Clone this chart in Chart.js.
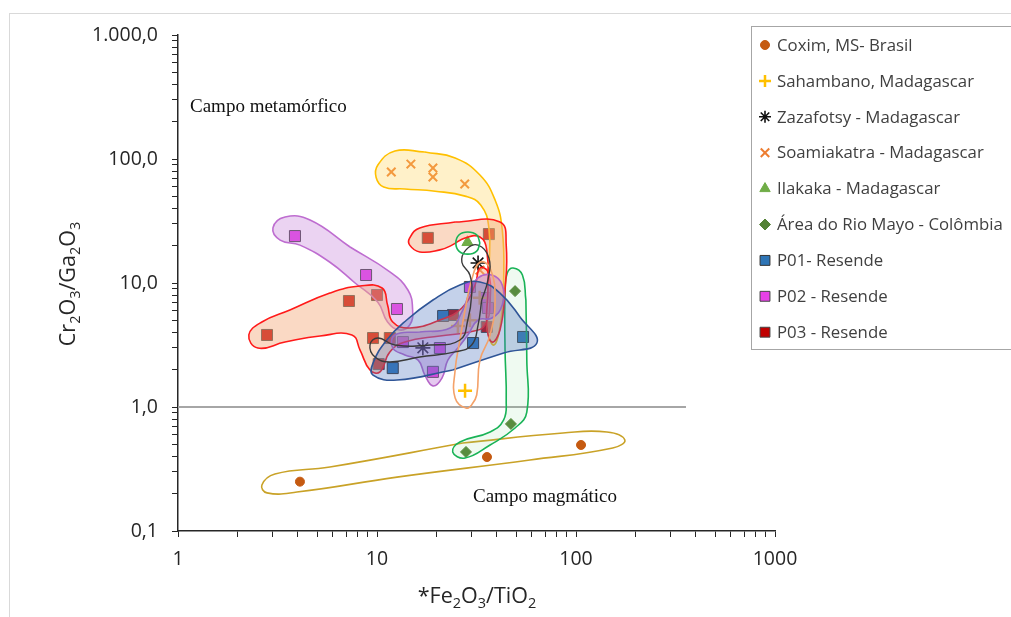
<!DOCTYPE html>
<html>
<head>
<meta charset="utf-8">
<script src="https://cdn.jsdelivr.net/npm/chart.js@4.4.1/dist/chart.umd.min.js"></script>
<style>
  html, body { margin: 0; padding: 0; background: #fff; overflow: hidden; }
  #wrap { position: relative; width: 1011px; height: 617px; }
  #frame { position: absolute; left: 9px; top: 13px; width: 1100px; height: 700px; border: 1px solid #d9d9d9; box-sizing: border-box; pointer-events: none; }
  canvas { position: absolute; left: 0; top: 0; }
</style>
</head>
<body>
<div id="wrap">
  <div id="frame"></div>
  <canvas id="c" width="1011" height="617"></canvas>
</div>
<script>
// ---------------- DATA ----------------
const seriesNames = [
  'Coxim, MS- Brasil',
  'Sahambano, Madagascar',
  'Zazafotsy - Madagascar',
  'Soamiakatra - Madagascar',
  'Ilakaka - Madagascar',
  'Área do Rio Mayo - Colômbia',
  'P01- Resende',
  'P02 - Resende',
  'P03 - Resende'
];
const coximX = [4.1, 35.7, 106];
const coximY = [0.25, 0.395, 0.494];
const sahambanoX = [27.7, 25.5, 29.3, 32.8];
const sahambanoY = [1.35, 4.5, 5.0, 7.6];
const zazafotsyX = [32.2, 17.0];
const zazafotsyY = [14.5, 3.0];
const soamiakatraX = [11.8, 14.8, 19.1, 19.1, 27.6, 32.9];
const soamiakatraY = [78.6, 91, 84.6, 71.6, 62.9, 12.7];
const ilakakaX = [28.5];
const ilakakaY = [21.3];
const rioMayoX = [28.0, 47.1, 49.4];
const rioMayoY = [0.434, 0.73, 8.6];
const p01X = [12.0, 30.4, 54.2, 21.5];
const p01Y = [2.06, 3.28, 3.67, 5.42];
const p02X = [3.87, 8.81, 12.6, 13.5, 20.7, 19.1, 29.3, 34.9, 36.1];
const p02Y = [23.9, 11.6, 6.17, 3.34, 2.99, 1.92, 9.29, 7.57, 6.29];
const p03X = [2.80, 7.23, 10.0, 9.55, 11.6, 10.2, 18.0, 36.5, 24.1, 35.6];
const p03Y = [3.81, 7.16, 8.0, 3.6, 3.6, 2.22, 23.1, 24.8, 5.52, 4.42];

const xTickLabels = ['1', '10', '100', '1000'];
const xTickValues = [1, 10, 100, 1000];
const yTickLabels = ['0,1', '1,0', '10,0', '100,0', '1.000,0'];
const yTickValues = [0.1, 1, 10, 100, 1000];

// boundary line between fields (Cr2O3/Ga2O3 = 1)
const boundaryX = [1, 357];
const boundaryY = [1, 1];

// hand-drawn field outlines, in data units [x, y]
const fieldSoamiakatra = [[17.4,114],[24.7,102],[32.9,74.3],[39.2,46.7],[42.6,26.8],[43.3,10.6],[42.0,5.03],[38.7,3.16],[35.6,4.58],[36.5,12.7],[36.5,27.8],[33.2,42.6],[27.7,50.2],[19.6,55.0],[13.8,57.3],[10.8,59.5],[9.9,71.0],[10.1,89.5],[12.3,116]];
const fieldP02a = [[7.32,19.5],[11.6,12.3],[14.3,8.78],[15.1,6.06],[14.6,4.58],[13.0,4.18],[11.3,4.85],[10.1,7.0],[7.76,10.0],[5.80,14.7],[4.10,20.2],[3.26,22.2],[3.00,27.8],[3.45,34.1],[4.61,32.2]];
const fieldP02b = [[16.4,4.03],[23.3,4.34],[26.7,5.84],[29.3,8.46],[32.2,11.0],[37.8,11.6],[42.6,9.64],[42.6,6.65],[37.8,5.22],[32.2,5.03],[28.6,3.81],[25.5,2.99],[22.7,2.39],[21.2,1.71],[19.1,1.48],[17.4,1.81],[16.1,2.39],[13.8,2.63],[12.0,2.99],[12.3,3.81]];
const fieldP03a = [[3.65,6.06],[5.80,8.30],[8.22,9.46],[10.6,9.11],[11.3,6.65],[12.0,4.85],[14.6,4.34],[20.7,5.03],[26.7,6.29],[31.1,9.64],[32.9,13.2],[36.1,12.3],[37.0,7.29],[34.9,4.58],[29.3,4.03],[20.7,3.74],[13.8,3.34],[11.6,2.78],[10.35,1.92],[9.22,1.99],[8.22,2.88],[7.48,3.81],[5.17,3.74],[3.45,3.34],[2.52,2.99],[2.27,3.81],[2.64,4.85]];
const fieldP03b = [[24.7,31.0],[41.5,31.0],[44.6,20.2],[44.0,8.78],[41.5,4.18],[37.8,3.34],[35.6,4.58],[36.1,8.78],[35.6,18.5],[32.9,23.5],[27.7,23.1],[23.8,20.2],[20.7,18.5],[16.4,17.8],[14.6,20.2],[14.6,23.1],[16.4,27.8]];
const fieldP01 = [[24.0,1.99],[43.3,2.73],[63.6,3.28],[52.3,5.32],[41.5,8.30],[32.9,10.2],[26.1,9.64],[19.1,7.29],[14.1,5.03],[11.2,3.47],[9.55,2.26],[9.55,1.81],[12.6,1.65]];
const fieldRioMayo = [[56.0,7.29],[56.6,2.39],[56.6,0.911],[49.4,0.677],[37.0,0.494],[27.7,0.388],[24.0,0.434],[26.1,0.522],[37.0,0.629],[43.3,0.786],[44.6,1.14],[44.0,2.88],[44.0,8.78],[45.1,12.0],[48.3,13.2],[53.8,11.6]];
const fieldIlakaka = [[32.9,21.0],[31.7,24.4],[28.6,25.8],[25.8,24.4],[24.9,21.0],[25.8,18.1],[28.6,17.1],[31.7,18.1]];
const fieldZazafotsy = [[33.6,7.29],[32.2,4.58],[29.9,3.16],[24.7,2.78],[16.4,2.53],[11.6,2.31],[9.77,2.53],[9.22,3.16],[10.1,3.6],[12.3,3.16],[18.5,3.16],[26.1,3.47],[28.6,5.03],[29.9,8.0],[29.3,11.6],[26.7,14.7],[28.0,18.5],[32.2,20.2],[36.5,15.9],[36.1,10.6]];
const fieldSahambano = [[26.1,3.47],[27.7,6.06],[29.9,10.6],[32.9,14.7],[37.0,13.2],[39.2,7.29],[37.0,3.81],[32.9,2.39],[31.7,1.25],[29.9,1.04],[28.0,0.98],[24.7,1.18],[24.7,1.99]];
const fieldCoxim = [[27.0,0.512],[86.0,0.617],[143,0.629],[176,0.542],[153,0.467],[58.7,0.374],[12.6,0.272],[3.96,0.206],[2.80,0.203],[2.64,0.235],[3.07,0.288],[5.80,0.328]];

// ---------------- BUILD ----------------
const zip = (xs, ys) => xs.map((x, i) => ({ x: x, y: ys[i] }));
const closed = (arr) => arr.concat([arr[0]]).map(p => ({ x: p[0], y: p[1] }));

const seriesStyles = [
  { pointStyle: 'circle',   radius: 4.5, bg: '#C55A11', bc: '#C55A11', bw: 1 },
  { pointStyle: 'cross',    radius: 7,   bg: '#FFC000', bc: '#FFC000', bw: 2.5 },
  { pointStyle: 'star',     radius: 7.5, bg: '#111111', bc: '#111111', bw: 1.6 },
  { pointStyle: 'crossRot', radius: 6,   bg: '#ED7D31', bc: '#ED7D31', bw: 2 },
  { pointStyle: 'triangle', radius: 6.5, bg: '#70AD47', bc: '#70AD47', bw: 1 },
  { pointStyle: 'rectRot',  radius: 5.5, bg: '#548235', bc: '#548235', bw: 1 },
  { pointStyle: 'rect',     radius: 7.8, bg: '#2E75B6', bc: '#333333', bw: 1 },
  { pointStyle: 'rect',     radius: 7.8, bg: '#E640E6', bc: '#444444', bw: 1 },
  { pointStyle: 'rect',     radius: 7.8, bg: '#C00000', bc: '#444444', bw: 1 }
];
const seriesData = [
  zip(coximX, coximY), zip(sahambanoX, sahambanoY), zip(zazafotsyX, zazafotsyY),
  zip(soamiakatraX, soamiakatraY), zip(ilakakaX, ilakakaY), zip(rioMayoX, rioMayoY),
  zip(p01X, p01Y), zip(p02X, p02Y), zip(p03X, p03Y)
];

const datasets = [];
seriesData.forEach((d, i) => {
  const s = seriesStyles[i];
  datasets.push({
    label: seriesNames[i], data: d, order: 60 + i,
    pointStyle: s.pointStyle, pointRadius: s.radius, pointHoverRadius: s.radius,
    backgroundColor: s.bg, borderColor: s.bc, borderWidth: s.bw, showLine: false
  });
});

function field(data, stroke, fillColor, order, width) {
  return {
    type: 'line', data: closed(data), order: order,
    borderColor: stroke, borderWidth: width || 1.6,
    backgroundColor: fillColor || 'rgba(0,0,0,0)',
    fill: fillColor ? 'shape' : false,
    tension: 0.45, pointRadius: 0, pointHoverRadius: 0
  };
}
datasets.push(field(fieldCoxim, '#C9A227', null, 30, 1.6));
datasets.push(field(fieldRioMayo, '#19B357', 'rgba(120,210,140,0.12)', 29));
datasets.push(field(fieldSoamiakatra, '#FFC000', 'rgba(255,214,90,0.33)', 28));
datasets.push(field(fieldP02a, '#BE6DD0', 'rgba(195,120,215,0.33)', 27));
datasets.push(field(fieldP03a, '#FF1A1A', 'rgba(244,170,125,0.45)', 26));
datasets.push(field(fieldP03b, '#FF1A1A', 'rgba(244,170,125,0.45)', 25));
datasets.push(field(fieldP02b, '#B565C8', 'rgba(180,100,210,0.35)', 24));
datasets.push(field(fieldP01, '#2F5597', 'rgba(75,115,190,0.33)', 23));
datasets.push(field(fieldSahambano, '#F4A26A', null, 22));
datasets.push(field(fieldZazafotsy, '#3A3A3A', null, 21, 1.4));
datasets.push(field(fieldIlakaka, '#19B357', null, 20));
datasets.push({
  type: 'line', data: zip(boundaryX, boundaryY), order: 100,
  borderColor: '#A6A6A6', borderWidth: 2, pointRadius: 0, fill: false, tension: 0
});

function allLogTicks(lo, hi) {
  const t = [];
  for (let d = lo; d < hi * 0.999; d *= 10) {
    for (let m = 1; m <= 9; m++) t.push({ value: +(d * m).toPrecision(6) });
  }
  t.push({ value: hi });
  return t;
}
function labelFor(v, values, labels) {
  for (let i = 0; i < values.length; i++) {
    if (Math.abs(v / values[i] - 1) < 1e-6) return labels[i];
  }
  return '';
}

const axisColor = '#262626';
const tickFont = { family: "'Open Sans'", size: 19.5 };

function drawSubText(ctx, parts, size, subSize, subShift) {
  let total = 0;
  parts.forEach(p => { ctx.font = (p[1] ? subSize : size) + "px 'Open Sans'"; total += ctx.measureText(p[0]).width; });
  let x = -total / 2;
  parts.forEach(p => {
    ctx.font = (p[1] ? subSize : size) + "px 'Open Sans'";
    ctx.fillText(p[0], x, p[1] ? subShift : 0);
    x += ctx.measureText(p[0]).width;
  });
}

const overlay = {
  id: 'overlay',
  afterDraw(chart) {
    const ctx = chart.ctx;
    ctx.save();
    // field names
    ctx.fillStyle = '#111';
    ctx.font = "19px 'Liberation Serif'";
    ctx.textBaseline = 'middle';
    ctx.textAlign = 'left';
    ctx.fillText('Campo metamórfico', 190, 107);
    ctx.fillText('Campo magmático', 473, 497);

    // axis titles
    ctx.fillStyle = '#262626';
    ctx.textAlign = 'left';
    ctx.textBaseline = 'alphabetic';
    ctx.save();
    ctx.translate(477, 603);
    drawSubText(ctx, [['*Fe', 0], ['2', 1], ['O', 0], ['3', 1], ['/TiO', 0], ['2', 1]], 21.5, 14.5, 5);
    ctx.restore();
    ctx.save();
    ctx.translate(75, 284);
    ctx.rotate(-Math.PI / 2);
    drawSubText(ctx, [['Cr', 0], ['2', 1], ['O', 0], ['3', 1], ['/Ga', 0], ['2', 1], ['O', 0], ['3', 1]], 21.5, 14.5, 5);
    ctx.restore();

    // legend
    ctx.fillStyle = '#ffffff';
    ctx.fillRect(751, 26, 300, 323);
    ctx.strokeStyle = '#a6a6a6';
    ctx.lineWidth = 1;
    ctx.strokeRect(751.5, 26.5, 300, 323);
    ctx.font = "16.8px 'Open Sans'";
    ctx.textBaseline = 'middle';
    ctx.textAlign = 'left';
    seriesNames.forEach((name, i) => {
      const y = 45 + i * 35.9;
      const s = seriesStyles[i];
      const r = s.pointStyle === 'rect' ? 7 : Math.min(s.radius, 6);
      ctx.fillStyle = s.bg;
      ctx.strokeStyle = s.bc;
      ctx.lineWidth = s.bw;
      Chart.helpers.drawPoint(ctx, { pointStyle: s.pointStyle, radius: r, rotation: 0, borderWidth: s.bw }, 765, y);
      ctx.fillStyle = '#404040';
      ctx.fillText(name, 777, y + 1);
    });
    ctx.restore();
  }
};

new Chart(document.getElementById('c'), {
  type: 'scatter',
  data: { datasets: datasets },
  plugins: [overlay],
  options: {
    responsive: false,
    animation: false,
    devicePixelRatio: 1,
    layout: { padding: { left: 0, right: 236, top: 35, bottom: 0 } },
    plugins: { legend: { display: false }, tooltip: { enabled: false } },
    events: [],
    scales: {
      x: {
        type: 'logarithmic', min: 1, max: 1000,
        afterBuildTicks: (s) => { s.ticks = allLogTicks(1, 1000); },
        afterFit: (s) => { s.height = 86; },
        ticks: {
          autoSkip: false, maxRotation: 0, padding: 11, color: '#262626', font: tickFont,
          callback: (v) => labelFor(v, xTickValues, xTickLabels)
        },
        grid: { drawOnChartArea: false, drawTicks: true, tickLength: 6, color: axisColor, lineWidth: 1 },
        border: { display: true, color: axisColor, width: 1.5 }
      },
      y: {
        type: 'logarithmic', min: 0.1, max: 1000,
        afterBuildTicks: (s) => { s.ticks = allLogTicks(0.1, 1000); },
        afterFit: (s) => { s.width = 178; },
        ticks: {
          autoSkip: false, padding: 14, color: '#262626', font: tickFont,
          callback: (v) => labelFor(v, yTickValues, yTickLabels)
        },
        grid: { drawOnChartArea: false, drawTicks: true, tickLength: 6, color: axisColor, lineWidth: 1 },
        border: { display: true, color: axisColor, width: 1.5 }
      }
    }
  }
});
</script>
</body>
</html>
